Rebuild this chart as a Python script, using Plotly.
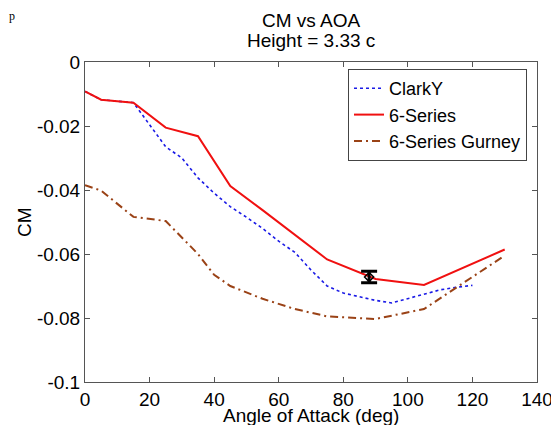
import plotly.graph_objects as go

# ---- data ----
aoa_clarky = [0, 5, 15, 20, 25, 30, 35, 40, 45, 50, 55, 60, 65, 70, 75, 80, 85, 90, 95, 100, 105, 110, 115, 120]
cm_clarky = [-0.0092, -0.0118, -0.0127, -0.0195, -0.0265, -0.0300, -0.0362, -0.0410, -0.0452, -0.0485,
             -0.0520, -0.0560, -0.0595, -0.0650, -0.0700, -0.0722, -0.0733, -0.0745, -0.0753, -0.0740,
             -0.0725, -0.0712, -0.0704, -0.0698]

aoa_6series = [0, 5, 15, 25, 35, 45, 55, 65, 75, 90, 105, 130]
cm_6series = [-0.0092, -0.0118, -0.0127, -0.0205, -0.0232, -0.0388, -0.0463, -0.0540, -0.0617, -0.0678,
              -0.0697, -0.0586]

aoa_gurney = [0, 5, 15, 25, 35, 40, 45, 55, 65, 75, 90, 105, 115, 130]
cm_gurney = [-0.0385, -0.0402, -0.0484, -0.0497, -0.0600, -0.0665, -0.0700, -0.0740, -0.0772, -0.0795,
             -0.0803, -0.0772, -0.0705, -0.0605]

err_x = [88]
err_y = [-0.0672]
err_val = [0.0018]

x_ticks = [0, 20, 40, 60, 80, 100, 120, 140]
y_ticks = [0, -0.02, -0.04, -0.06, -0.08, -0.1]
y_tick_labels = ["0", "-0.02", "-0.04", "-0.06", "-0.08", "-0.1"]

title_lines = ["CM vs AOA", "Height = 3.33 c"]
x_label = "Angle of Attack (deg)"
y_label = "CM"

FONT = "Liberation Sans, Arial, sans-serif"
FS = 19

# The page has an 8px body margin; the figure is sized to fit inside the window.
OFF = 8
W, H = 559 - OFF, 425 - OFF
# plot area in window pixels: left 85, right 537, top 62, bottom 381.7
ML = 85 - OFF
MR = W - (537 - OFF)
MT = 62 - OFF
MB = H - (382 - OFF)
PW, PH = W - ML - MR, H - MT - MB


def px_x(px):
    return (px - OFF - ML) / PW


def px_y(py):
    return (H - MB - (py - OFF)) / PH


fig = go.Figure()
fig.add_trace(go.Scatter(x=aoa_clarky, y=cm_clarky, mode="lines", name="ClarkY",
                         line=dict(color="#1a1ae6", width=1.6, dash="dot")))
fig.add_trace(go.Scatter(x=aoa_6series, y=cm_6series, mode="lines", name="6-Series",
                         line=dict(color="#f01010", width=2)))
fig.add_trace(go.Scatter(x=aoa_gurney, y=cm_gurney, mode="lines", name="6-Series Gurney",
                         line=dict(color="#9a4216", width=2, dash="8px,4px,2px,4px")))
fig.add_trace(go.Scatter(x=err_x, y=err_y, mode="markers", showlegend=False,
                         marker=dict(symbol="diamond-open", size=7, color="black", line=dict(width=1.5)),
                         error_y=dict(type="data", array=err_val, thickness=3, width=8, color="black")))

axis_common = dict(showline=True, linecolor="#555555", linewidth=1, mirror="ticks",
                   ticks="inside", ticklen=5, tickcolor="#555555", showgrid=False, zeroline=False,
                   automargin=False,
                   tickfont=dict(family=FONT, size=FS, color="black"))

fig.update_layout(
    width=W, height=H,
    margin=dict(l=ML, r=MR, t=MT, b=MB),
    paper_bgcolor="white", plot_bgcolor="white",
    xaxis=dict(range=[0, 140], tickvals=x_ticks, **axis_common),
    yaxis=dict(range=[-0.1, 0], tickvals=y_ticks, ticktext=y_tick_labels, **axis_common),
    legend=dict(x=px_x(527), y=px_y(69), xanchor="right", yanchor="top", bgcolor="white",
                bordercolor="#444444", borderwidth=1, font=dict(family=FONT, size=18, color="black"),
                tracegroupgap=0, itemwidth=30),
    showlegend=True,
)

txt_font = dict(family=FONT, size=FS, color="black")
fig.add_annotation(text=title_lines[0], xref="paper", yref="paper", x=0.5, y=px_y(21),
                   xanchor="center", yanchor="middle", showarrow=False, font=txt_font)
fig.add_annotation(text=title_lines[1], xref="paper", yref="paper", x=0.5, y=px_y(41),
                   xanchor="center", yanchor="middle", showarrow=False, font=txt_font)
fig.add_annotation(text=x_label, xref="paper", yref="paper", x=0.5, y=px_y(415),
                   xanchor="center", yanchor="middle", showarrow=False, font=txt_font, borderpad=0)
fig.add_annotation(text=y_label, xref="paper", yref="paper", x=px_x(24), y=0.5, textangle=-90,
                   xanchor="center", yanchor="middle", showarrow=False, font=txt_font)
fig.add_annotation(text="p", xref="paper", yref="paper", x=px_x(OFF), y=px_y(OFF), xanchor="left", yanchor="top",
                   showarrow=False, borderpad=0,
                   font=dict(family="Liberation Serif, Times New Roman, serif", size=12, color="black"))

fig.write_html("out.html")
